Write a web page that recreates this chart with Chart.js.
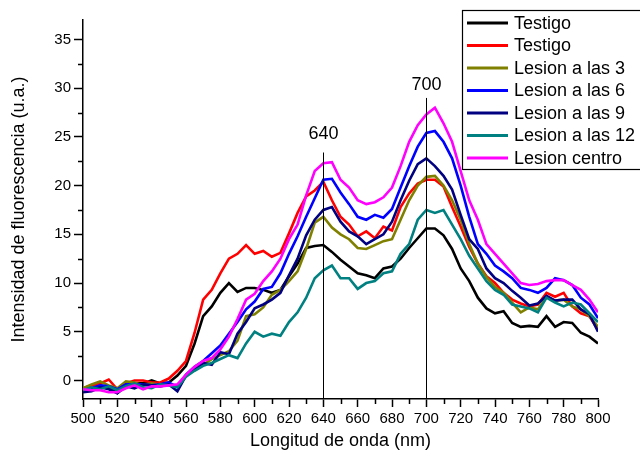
<!DOCTYPE html>
<html>
<head>
<meta charset="utf-8">
<script src="https://cdn.jsdelivr.net/npm/chart.js@4.4.0/dist/chart.umd.min.js"></script>
<style>
    html, body { margin: 0; padding: 0; background: #fff; }
</style>
</head>
<body>
<canvas id="espectroChart" width="640" height="460"></canvas>
<script>
// longitud de onda (nm)
var longitudes = [500, 505, 510, 515, 520, 525, 530, 535, 540, 545,
    550, 555, 560, 565, 570, 575, 580, 585, 590, 595,
    600, 605, 610, 615, 620, 625, 630, 635, 640, 645,
    650, 655, 660, 665, 670, 675, 680, 685, 690, 695,
    700, 705, 710, 715, 720, 725, 730, 735, 740, 745,
    750, 755, 760, 765, 770, 775, 780, 785, 790, 795, 800];

var testigo1 = [-1.0, -0.8, -0.5, -0.7, -1.3, -0.5, -0.3, -0.3, 0.0, -0.3,
    -0.2, 0.5, 1.5, 3.8, 6.6, 7.6, 9.0, 10.0, 9.1, 9.5,
    9.5, 9.3, 9.0, 9.3, 10.7, 12.0, 13.6, 13.8, 13.9, 13.2,
    12.4, 11.7, 11.0, 10.8, 10.5, 11.5, 11.7, 12.5, 13.6, 14.6,
    15.6, 15.6, 14.9, 13.5, 11.5, 10.2, 8.5, 7.4, 6.9, 7.1,
    5.9, 5.5, 5.6, 5.5, 6.6, 5.5, 6.0, 5.9, 4.9, 4.5, 3.8];

var testigo2 = [-0.8, -0.5, -0.3, 0.1, -0.9, -0.3, 0.0, 0.0, -0.2, -0.2,
    0.2, 1.0, 2.0, 4.9, 8.3, 9.3, 11.0, 12.5, 13.0, 13.9,
    13.0, 13.3, 12.7, 13.1, 15.1, 17.2, 18.9, 19.5, 20.4, 18.5,
    16.8, 16.0, 14.8, 15.3, 14.6, 15.8, 15.4, 17.8, 19.2, 20.2,
    20.6, 20.6, 19.9, 17.8, 15.8, 13.7, 12.0, 10.7, 10.0, 9.0,
    8.3, 7.9, 7.6, 7.8, 9.0, 8.6, 9.0, 7.6, 6.9, 6.6, 5.2];

var lesion3 = [-0.8, -0.4, -0.1, -0.5, -0.8, -0.1, -0.2, -0.5, -0.3, -0.5,
    -0.3, -0.6, 0.5, 1.2, 1.6, 2.2, 2.6, 3.0, 4.1, 6.6,
    6.8, 7.5, 8.8, 9.3, 10.2, 11.2, 13.5, 16.2, 16.8, 15.7,
    15.0, 14.5, 13.6, 13.5, 13.9, 14.3, 14.5, 16.5, 18.5, 20.0,
    20.9, 21.0, 20.0, 18.5, 16.5, 14.0, 12.0, 10.6, 9.6, 9.0,
    8.0, 7.0, 7.5, 7.3, 8.6, 8.2, 8.3, 7.6, 7.3, 6.6, 5.5];

var lesion6 = [-1.0, -0.8, -0.5, -0.6, -0.9, -0.4, -0.4, -0.4, -0.5, -0.4,
    -0.2, -0.7, 0.6, 1.4, 2.0, 2.8, 3.6, 4.8, 6.0, 7.3,
    8.1, 9.4, 9.6, 11.0, 13.0, 14.8, 16.8, 18.7, 20.6, 20.7,
    19.3, 18.1, 16.8, 16.5, 17.0, 16.7, 17.6, 19.8, 22.0, 24.0,
    25.4, 25.6, 24.5, 22.8, 20.0, 16.8, 14.0, 13.0, 11.8, 11.2,
    10.5, 9.5, 9.3, 9.0, 9.5, 10.5, 10.3, 9.8, 8.5, 7.8, 6.4];

var lesion9 = [-1.2, -1.1, -0.7, -0.9, -1.3, -0.6, -0.8, -0.4, -0.5, -0.6,
    -0.4, -1.1, 0.5, 1.1, 1.8, 1.6, 2.9, 2.7, 4.8, 6.0,
    7.4, 7.8, 8.3, 9.0, 10.8, 12.5, 14.9, 16.5, 17.5, 17.8,
    16.3, 15.3, 14.8, 14.0, 14.5, 15.0, 16.3, 18.5, 20.5, 22.2,
    22.8, 22.0, 21.0, 19.6, 17.0, 14.5, 13.5, 11.5, 10.5, 10.0,
    9.2, 8.5, 7.7, 7.9, 8.7, 8.2, 8.3, 8.3, 7.3, 6.8, 5.0];

var lesion12 = [-1.0, -0.7, -0.9, -0.6, -1.0, -0.6, -0.3, -0.7, -0.8, -0.4,
    -0.5, -0.7, 0.4, 1.0, 1.5, 1.8, 2.2, 2.6, 2.3, 3.8,
    5.0, 4.5, 4.8, 4.6, 6.0, 7.0, 8.5, 10.5, 11.3, 11.8,
    10.5, 10.5, 9.4, 10.0, 10.2, 11.0, 11.2, 13.0, 14.0, 16.5,
    17.5, 17.2, 17.5, 16.0, 14.5, 12.8, 11.5, 10.2, 9.3, 8.8,
    7.8, 7.6, 7.4, 7.0, 8.5, 8.0, 7.6, 8.0, 7.8, 6.9, 6.0];

var lesionCentro = [-0.9, -1.0, -1.0, -1.2, -1.2, -0.8, -0.5, -0.9, -0.6, -0.6,
    -0.5, -0.4, 0.6, 1.4, 2.0, 2.3, 3.2, 4.5, 6.3, 8.3,
    8.9, 10.2, 11.2, 12.5, 14.5, 16.0, 19.0, 21.5, 22.3, 22.4,
    20.6, 19.8, 18.5, 18.1, 18.3, 18.8, 19.8, 22.0, 24.5, 26.2,
    27.3, 28.0, 26.4, 24.5, 21.5, 18.5, 16.5, 14.0, 13.0, 12.0,
    11.0, 10.0, 9.8, 9.9, 10.2, 10.3, 10.3, 9.8, 9.3, 8.3, 7.0];

var nombres = ['Testigo', 'Testigo', 'Lesion a las 3', 'Lesion a las 6', 'Lesion a las 9', 'Lesion a las 12', 'Lesion centro'];
var colores = ['#000000', '#ff0000', '#808000', '#0000ff', '#000080', '#008080', '#ff00ff'];
var series = [testigo1, testigo2, lesion3, lesion6, lesion9, lesion12, lesionCentro];

// lineas verticales de referencia
var marcas = [640, 700];
var marcasTope = [23.4, 29.0];
var marcasTexto = [25.3, 30.3];

var fuente = '"Liberation Sans", Arial, sans-serif';

var datasets = series.map(function(valores, i) {
    return {
        label: nombres[i],
        data: longitudes.map(function(x, j) { return { x: x, y: valores[j] }; }),
        borderColor: colores[i],
        backgroundColor: colores[i],
        borderWidth: 2.6,
        pointRadius: 0,
        tension: 0,
        order: series.length - i
    };
});

var extras = {
    id: 'extras',
    afterDraw: function(chart) {
        var ctx = chart.ctx;
        var xs = chart.scales.x, ys = chart.scales.y;
        var area = chart.chartArea;
        ctx.save();

        // ticks menores
        ctx.strokeStyle = '#000';
        ctx.lineWidth = 1.5;
        ctx.beginPath();
        for (var v = 510; v < 800; v += 20) {
            var px = Math.round(xs.getPixelForValue(v)) + 0.5;
            ctx.moveTo(px, area.bottom);
            ctx.lineTo(px, area.bottom + 5);
        }
        for (var w = 2.5; w < 37; w += 5) {
            var py = Math.round(ys.getPixelForValue(w)) + 0.5;
            ctx.moveTo(area.left, py);
            ctx.lineTo(area.left - 5, py);
        }
        ctx.stroke();

        // lineas 640 y 700
        ctx.lineWidth = 1;
        ctx.font = '18px ' + fuente;
        ctx.fillStyle = '#000';
        ctx.textAlign = 'center';
        ctx.textBaseline = 'middle';
        marcas.forEach(function(m, i) {
            var px = Math.round(xs.getPixelForValue(m)) + 0.5;
            ctx.beginPath();
            ctx.moveTo(px, ys.getPixelForValue(marcasTope[i]));
            ctx.lineTo(px, area.bottom);
            ctx.stroke();
            ctx.fillText(String(m), px, ys.getPixelForValue(marcasTexto[i]));
        });

        // leyenda
        var bx = 462.5, by = 10.5, bh = 159;
        ctx.fillStyle = '#fff';
        ctx.fillRect(bx, by, 200, bh);
        ctx.strokeStyle = '#000';
        ctx.lineWidth = 1.2;
        ctx.strokeRect(bx, by, 200, bh);
        ctx.textAlign = 'left';
        chart.data.datasets.forEach(function(ds, i) {
            var cy = 23 + i * 22.5;
            ctx.strokeStyle = ds.borderColor;
            ctx.lineWidth = 3;
            ctx.beginPath();
            ctx.moveTo(467, cy);
            ctx.lineTo(508, cy);
            ctx.stroke();
            ctx.fillStyle = '#000';
            ctx.fillText(ds.label, 514, cy + 1);
        });
        ctx.restore();
    }
};

var ctx = document.getElementById('espectroChart').getContext('2d');
var espectroChart = new Chart(ctx, {
    type: 'line',
    data: { datasets: datasets },
    options: {
        responsive: false,
        animation: false,
        devicePixelRatio: 1,
        layout: { padding: { left: 0, right: 42, top: 20, bottom: 0 } },
        plugins: {
            legend: { display: false },
            tooltip: { enabled: false }
        },
        scales: {
            x: {
                type: 'linear',
                min: 500,
                max: 800,
                afterFit: function(scale) { scale.height = 61; },
                ticks: {
                    stepSize: 20,
                    color: '#000',
                    padding: 3,
                    maxRotation: 0,
                    autoSkip: false,
                    font: { family: fuente, size: 15 }
                },
                grid: { drawOnChartArea: false, color: '#000', tickLength: 8, tickWidth: 1.5 },
                border: { color: '#000', width: 1.5 },
                title: {
                    display: true,
                    text: 'Longitud de onda (nm)',
                    color: '#000',
                    font: { family: fuente, size: 18 },
                    padding: { top: 0, bottom: 8 }
                }
            },
            y: {
                type: 'linear',
                min: -1.9,
                max: 37,
                afterFit: function(scale) { scale.width = 83; },
                afterBuildTicks: function(scale) {
                    scale.ticks = scale.ticks.filter(function(t) {
                        return Math.abs(t.value / 5 - Math.round(t.value / 5)) < 1e-6;
                    });
                },
                ticks: {
                    stepSize: 5,
                    color: '#000',
                    padding: 3,
                    font: { family: fuente, size: 15 }
                },
                grid: { drawOnChartArea: false, color: '#000', tickLength: 9, tickWidth: 1.5 },
                border: { color: '#000', width: 1.5 },
                title: {
                    display: true,
                    text: 'Intensidad de fluorescencia (u.a.)',
                    color: '#000',
                    font: { family: fuente, size: 18 },
                    padding: { top: 8, bottom: 0 }
                }
            }
        }
    },
    plugins: [extras]
});
</script>
</body>
</html>
